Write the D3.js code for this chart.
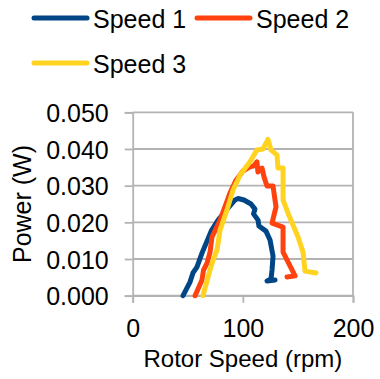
<!DOCTYPE html>
<html>
<head>
<meta charset="utf-8">
<script src="https://cdn.jsdelivr.net/npm/d3@7"></script>
<style>
  body { margin: 0; background: #fff; }
  svg text { font-family: "Liberation Sans", Arial, sans-serif; fill: #000; }
</style>
</head>
<body>
<div id="chart"></div>
<script>
// rotor speed (rpm) and power (W) for each run
const speed1Rpm = [45.7, 52.0, 54.7, 58.3, 62.9, 71.7, 77.5, 86.5, 92.9, 95.7, 101.0, 107.4, 111.0, 109.7, 113.8, 114.6, 121.0, 124.7, 127.4, 126.5, 125.6, 122.0, 129.2];
const speed1Power = [0.0000, 0.0037, 0.0062, 0.0078, 0.0116, 0.0179, 0.0206, 0.0239, 0.0261, 0.0265, 0.0261, 0.0250, 0.0236, 0.0223, 0.0206, 0.0190, 0.0176, 0.0152, 0.0108, 0.0070, 0.0046, 0.0040, 0.0043];

const speed2Rpm = [56.6, 62.9, 64.3, 67.5, 70.2, 72.0, 79.3, 88.3, 93.8, 100.1, 106.5, 110.1, 112.8, 113.7, 117.4, 119.2, 121.9, 127.4, 130.1, 126.5, 136.5, 136.5, 147.4, 140.1];
const speed2Power = [0.0000, 0.0043, 0.0070, 0.0089, 0.0119, 0.0160, 0.0206, 0.0280, 0.0315, 0.0340, 0.0351, 0.0354, 0.0365, 0.0337, 0.0348, 0.0324, 0.0299, 0.0299, 0.0242, 0.0198, 0.0187, 0.0119, 0.0054, 0.0051];

const speed3Rpm = [63.8, 70.2, 73.0, 76.6, 79.3, 85.6, 91.1, 97.5, 106.5, 112.8, 118.3, 122.8, 125.6, 131.0, 131.9, 136.5, 136.5, 141.0, 150.1, 154.6, 156.4, 166.4];
const speed3Power = [0.0000, 0.0070, 0.0097, 0.0125, 0.0179, 0.0234, 0.0288, 0.0329, 0.0365, 0.0397, 0.0400, 0.0426, 0.0397, 0.0384, 0.0348, 0.0348, 0.0261, 0.0225, 0.0160, 0.0119, 0.0067, 0.0062];

const seriesNames = ["Speed 1", "Speed 2", "Speed 3"];
const seriesColors = ["#004586", "#ff420e", "#ffd320"];
const xTicks = [0, 100, 200];
const yTicks = [0, 0.01, 0.02, 0.03, 0.04, 0.05];

const series = [
  { name: seriesNames[0], color: seriesColors[0], values: speed1Rpm.map((r, i) => ({ rpm: r, power: speed1Power[i] })) },
  { name: seriesNames[1], color: seriesColors[1], values: speed2Rpm.map((r, i) => ({ rpm: r, power: speed2Power[i] })) },
  { name: seriesNames[2], color: seriesColors[2], values: speed3Rpm.map((r, i) => ({ rpm: r, power: speed3Power[i] })) }
];

const W = 380, H = 379;
const margin = { top: 112.3, right: 27, bottom: 83.3, left: 132.7 };
const width = W - margin.left - margin.right;
const height = H - margin.top - margin.bottom;
const grid = "#b3b3b3";
const fontSize = 25;

const svg = d3.select("#chart").append("svg")
  .attr("width", W)
  .attr("height", H);

const g = svg.append("g")
  .attr("transform", `translate(${margin.left},${margin.top})`);

const x = d3.scaleLinear().domain([0, 200]).range([0, width]);
const y = d3.scaleLinear().domain([0, 0.05]).range([height, 0]);

// horizontal gridlines
g.append("g")
  .selectAll("line")
  .data(yTicks)
  .enter()
  .append("line")
  .attr("x1", 0)
  .attr("x2", width)
  .attr("y1", d => y(d))
  .attr("y2", d => y(d))
  .attr("stroke", grid)
  .attr("stroke-width", 1.8);

// right border of the plot wall
g.append("line")
  .attr("x1", width).attr("x2", width)
  .attr("y1", 0).attr("y2", height)
  .attr("stroke", grid)
  .attr("stroke-width", 1.8);

// y axis
const yAxis = g.append("g")
  .call(d3.axisLeft(y).tickValues(yTicks).tickFormat(d3.format(".3f")).tickSize(8).tickPadding(16));
yAxis.select(".domain").attr("stroke", grid).attr("stroke-width", 1.8);
yAxis.selectAll(".tick line").attr("stroke", grid).attr("stroke-width", 1.8);
yAxis.selectAll("text")
  .attr("font-size", fontSize)
  .attr("font-family", "Liberation Sans, Arial, sans-serif")
  .attr("dy", "0.37em");

// x axis
const xAxis = g.append("g")
  .attr("transform", `translate(0,${height})`)
  .call(d3.axisBottom(x).tickValues(xTicks).tickSize(7).tickPadding(17));
xAxis.select(".domain").attr("stroke", grid).attr("stroke-width", 1.8);
xAxis.selectAll(".tick line").attr("stroke", grid).attr("stroke-width", 1.8);
xAxis.selectAll("text")
  .attr("font-size", fontSize)
  .attr("font-family", "Liberation Sans, Arial, sans-serif");

// axis titles
svg.append("text")
  .attr("x", margin.left + width / 2)
  .attr("y", 367)
  .attr("text-anchor", "middle")
  .attr("font-size", 24)
  .text("Rotor Speed (rpm)");

svg.append("text")
  .attr("transform", `translate(31,${margin.top + height / 2}) rotate(-90)`)
  .attr("text-anchor", "middle")
  .attr("font-size", fontSize)
  .text("Power (W)");

// series lines
const line = d3.line()
  .x(d => x(d.rpm))
  .y(d => y(d.power));

g.selectAll(".series")
  .data(series)
  .enter()
  .append("path")
  .attr("class", "series")
  .attr("fill", "none")
  .attr("stroke", d => d.color)
  .attr("stroke-width", 5)
  .attr("stroke-linejoin", "round")
  .attr("stroke-linecap", "round")
  .attr("d", d => line(d.values));

// legend
const legendPos = [{ x: 34, y: 18 }, { x: 197, y: 18 }, { x: 34, y: 63 }];
const legend = svg.selectAll(".legend")
  .data(series)
  .enter()
  .append("g")
  .attr("class", "legend")
  .attr("transform", (d, i) => `translate(${legendPos[i].x},${legendPos[i].y})`);

legend.append("line")
  .attr("x1", 0).attr("x2", 53)
  .attr("y1", 0).attr("y2", 0)
  .attr("stroke", d => d.color)
  .attr("stroke-width", 5)
  .attr("stroke-linecap", "round");

legend.append("text")
  .attr("x", 59)
  .attr("y", 10)
  .attr("font-size", fontSize)
  .text(d => d.name);
</script>
</body>
</html>
